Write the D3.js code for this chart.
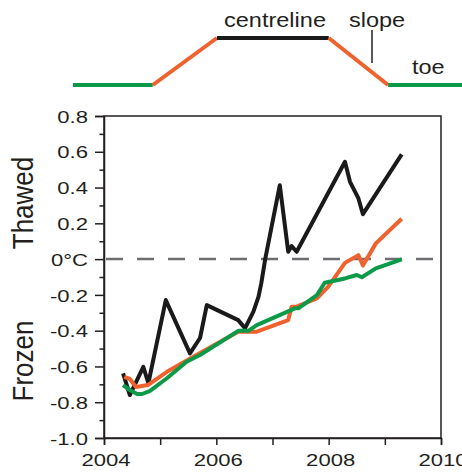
<!DOCTYPE html>
<html>
<head>
<meta charset="utf-8">
<title>Embankment ground temperature</title>
<script src="https://d3js.org/d3.v7.min.js"></script>
<style>
  body { margin: 0; background: #fff; }
  text { font-family: Arial, "Liberation Sans", sans-serif; fill: #231f20; }
</style>
</head>
<body>
<div id="chart"></div>
<script>
// --- data ---
var blackYears = [2004.34, 2004.46, 2004.70, 2004.79, 2005.10, 2005.53, 2005.71, 2005.83, 2006.39, 2006.51, 2006.66, 2006.75, 2006.80, 2006.87, 2007.13, 2007.28, 2007.34, 2007.43, 2008.29, 2008.38, 2008.53, 2008.61, 2009.30];
var blackTemps = [-0.639, -0.760, -0.602, -0.694, -0.229, -0.527, -0.441, -0.257, -0.341, -0.387, -0.294, -0.211, -0.136, 0.0, 0.413, 0.041, 0.073, 0.041, 0.544, 0.432, 0.339, 0.251, 0.585];

var orangeYears = [2004.36, 2004.46, 2004.57, 2004.78, 2005.12, 2005.59, 2006.39, 2006.72, 2007.28, 2007.34, 2007.43, 2007.79, 2007.99, 2008.29, 2008.53, 2008.61, 2008.84, 2009.30];
var orangeTemps = [-0.658, -0.670, -0.715, -0.704, -0.630, -0.546, -0.406, -0.406, -0.341, -0.266, -0.266, -0.220, -0.155, -0.021, 0.022, -0.036, 0.088, 0.226];

var greenYears = [2004.34, 2004.46, 2004.59, 2004.68, 2004.82, 2005.12, 2005.47, 2005.71, 2006.39, 2006.57, 2006.72, 2007.40, 2007.46, 2007.79, 2007.93, 2008.29, 2008.50, 2008.59, 2008.84, 2009.30];
var greenTemps = [-0.704, -0.732, -0.754, -0.754, -0.737, -0.666, -0.574, -0.536, -0.401, -0.401, -0.369, -0.275, -0.275, -0.201, -0.132, -0.108, -0.089, -0.101, -0.052, -0.002];

var yTicks = [-1.0, -0.8, -0.6, -0.4, -0.2, 0, 0.2, 0.4, 0.6, 0.8];
var yMinor = [-0.9, -0.7, -0.5, -0.3, -0.1, 0.1, 0.3, 0.5, 0.7];
var xTicks = [2004, 2005, 2006, 2007, 2008, 2009, 2010];
var xLabels = [2004, 2006, 2008, 2010];

// embankment cross-section (chainage, relative height) for the key
var profChain = [0, 8.2, 14.8, 26.3, 32.4, 40];
var profHeight = [0, 0, 1, 1, 0, 0];
var profPart = ["toe", "slope", "centreline", "slope", "toe"];

var colors = { centreline: "#1a1a1a", slope: "#f0622d", toe: "#0c9a48" };

var width = 462, height = 472;

var svg = d3.select("#chart").append("svg")
    .attr("width", width)
    .attr("height", height);

// --- key at the top ---
var px = d3.scaleLinear().domain([0, 40]).range([73, 462]);
var py = d3.scaleLinear().domain([0, 1]).range([85, 38]);

var key = svg.append("g");
for (var i = 0; i < profPart.length; i++) {
  key.append("line")
      .attr("x1", px(profChain[i])).attr("y1", py(profHeight[i]))
      .attr("x2", px(profChain[i + 1])).attr("y2", py(profHeight[i + 1]))
      .attr("stroke", colors[profPart[i]])
      .attr("stroke-width", 4);
}
key.append("line")
    .attr("x1", 372).attr("x2", 372).attr("y1", 30).attr("y2", 63)
    .attr("stroke", "#231f20").attr("stroke-width", 1.5);

function keyLabel(txt, x, y, anchor) {
  key.append("text")
      .attr("transform", "translate(" + x + "," + y + ") scale(1.12,1)")
      .attr("text-anchor", anchor)
      .style("font-size", "21px")
      .text(txt);
}
keyLabel("centreline", 275, 27, "middle");
keyLabel("slope", 349, 27, "start");
keyLabel("toe", 412, 74, "start");

// --- main plot ---
var x = d3.scaleLinear().domain([2004, 2010]).range([104, 441]);
var y = d3.scaleLinear().domain([-1, 0.8]).range([438, 116]);

// frame
svg.append("rect")
    .attr("x", x(2004)).attr("y", y(0.8))
    .attr("width", x(2010) - x(2004))
    .attr("height", y(-1) - y(0.8))
    .attr("fill", "none")
    .attr("stroke", "#231f20")
    .attr("stroke-width", 1.5);

// y axis minor ticks
svg.append("g")
    .attr("transform", "translate(" + x(2004) + ",0)")
    .call(d3.axisLeft(y).tickValues(yMinor).tickSize(4.5).tickFormat(""))
    .call(function(g) { g.select(".domain").remove(); })
    .selectAll("line").attr("stroke", "#231f20").attr("stroke-width", 1.5);

// y axis major
var yAxis = svg.append("g")
    .attr("transform", "translate(" + x(2004) + ",0)")
    .call(d3.axisLeft(y).tickValues(yTicks).tickSize(9)
      .tickFormat(function(d) { return d === 0 ? "0°C" : d.toFixed(1); }));
yAxis.select(".domain").attr("stroke", "#231f20").attr("stroke-width", 1.5);
yAxis.selectAll(".tick line").attr("stroke", "#231f20").attr("stroke-width", 1.5);
yAxis.selectAll(".tick text")
    .attr("x", 0).attr("dy", "0.36em")
    .attr("transform", "translate(-16,0) scale(1.3,1)")
    .attr("fill", "#231f20")
    .style("font-size", "17px")
    .style("font-family", "Arial, 'Liberation Sans', sans-serif");

// x axis
var xAxis = svg.append("g")
    .attr("transform", "translate(0," + y(-1) + ")")
    .call(d3.axisBottom(x).tickValues(xTicks).tickSize(7)
      .tickFormat(function(d) { return xLabels.indexOf(d) >= 0 ? String(d) : ""; }));
xAxis.select(".domain").attr("stroke", "#231f20").attr("stroke-width", 1.5);
xAxis.selectAll(".tick line").attr("stroke", "#231f20").attr("stroke-width", 1.5);
xAxis.selectAll(".tick text")
    .attr("y", 0).attr("dy", 0)
    .attr("transform", "translate(1.5,28) scale(1.3,1)")
    .attr("fill", "#231f20")
    .style("font-size", "17px")
    .style("font-family", "Arial, 'Liberation Sans', sans-serif");

// 0 °C line
svg.append("line")
    .attr("x1", x(2004) + 2).attr("x2", x(2010) - 4)
    .attr("y1", y(0)).attr("y2", y(0))
    .attr("stroke", "#6d6e71")
    .attr("stroke-width", 2.5)
    .attr("stroke-dasharray", "17,14");

// series
function pairs(xs, ys) {
  return xs.map(function(d, i) { return [d, ys[i]]; });
}
var line = d3.line()
    .x(function(d) { return x(d[0]); })
    .y(function(d) { return y(d[1]); });

var series = [
  { data: pairs(blackYears, blackTemps), color: colors.centreline },
  { data: pairs(orangeYears, orangeTemps), color: colors.slope },
  { data: pairs(greenYears, greenTemps), color: colors.toe }
];

svg.selectAll(".series")
    .data(series)
    .enter().append("path")
    .attr("class", "series")
    .attr("d", function(d) { return line(d.data); })
    .attr("fill", "none")
    .attr("stroke", function(d) { return d.color; })
    .attr("stroke-width", 4)
    .attr("stroke-linejoin", "round");

// side labels
svg.append("text")
    .attr("transform", "translate(33,203) rotate(-90) scale(1,1.12)")
    .attr("text-anchor", "middle")
    .style("font-size", "26px")
    .text("Thawed");
svg.append("text")
    .attr("transform", "translate(33,361) rotate(-90) scale(1,1.12)")
    .attr("text-anchor", "middle")
    .style("font-size", "26px")
    .text("Frozen");
</script>
</body>
</html>
